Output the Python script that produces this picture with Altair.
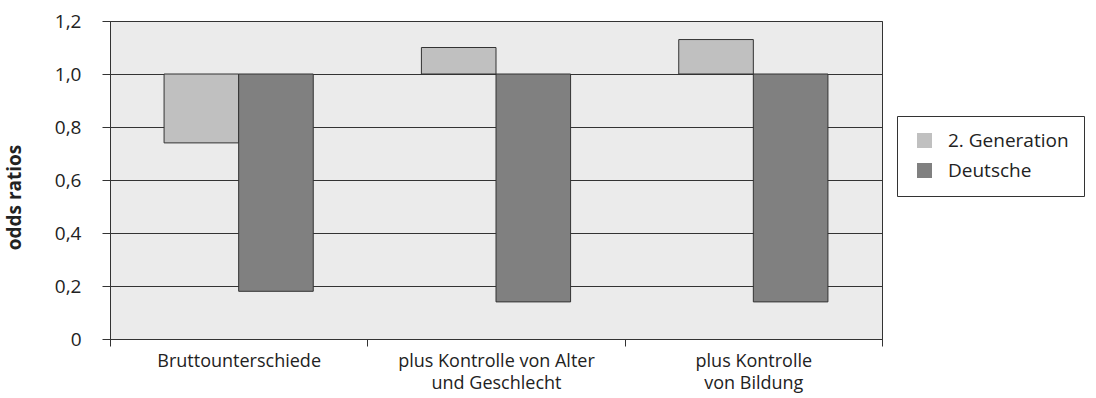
import altair as alt
import pandas as pd

categories = [
    "Bruttounterschiede",
    "plus Kontrolle von Alter\nund Geschlecht",
    "plus Kontrolle\nvon Bildung",
]
groups = ["2. Generation", "Deutsche"]
gen2_values = [0.74, 1.10, 1.13]
deutsche_values = [0.18, 0.14, 0.14]
y_ticks = [0, 0.2, 0.4, 0.6, 0.8, 1.0, 1.2]
colors = ["#c0c0c0", "#808080"]

rows = []
for c, v in zip(categories, gen2_values):
    rows.append({"cat": c, "group": groups[0], "value": v})
for c, v in zip(categories, deutsche_values):
    rows.append({"cat": c, "group": groups[1], "value": v})
df = pd.DataFrame(rows)

FONT = "Open Sans"

bars = alt.Chart(df).mark_bar(stroke="#333333", strokeWidth=1).encode(
    x=alt.X(
        "cat:N",
        sort=categories,
        title=None,
        scale=alt.Scale(paddingInner=0, paddingOuter=0),
        axis=alt.Axis(
            labelAngle=0,
            labelExpr="split(datum.label, '\\n')",
            tickBand="extent",
            tickSize=7,
            tickColor="#333333",
            domainColor="#333333",
            labelPadding=6,
            labelFontSize=18,
            labelLineHeight=22,
            labelLimit=400,
            labelColor="#222222",
            labelFont=FONT,
            grid=False,
        ),
    ),
    xOffset=alt.XOffset("group:N", sort=groups,
                        scale=alt.Scale(paddingInner=0, paddingOuter=0.725)),
    y=alt.Y(
        "value:Q",
        title="odds ratios",
        scale=alt.Scale(domain=[0, 1.2], nice=False),
        axis=alt.Axis(
            values=y_ticks,
            labelExpr="datum.value == 0 ? '0' : replace(format(datum.value, '.1f'), '.', ',')",
            tickSize=8,
            tickColor="#333333",
            domainColor="#333333",
            gridColor="#333333",
            gridOpacity=1,
            gridWidth=1,
            labelPadding=21,
            labelFontSize=19,
            labelFont=FONT,
            labelColor="#222222",
            titleFont=FONT,
            titleFontSize=19,
            titleFontWeight="bold",
            titleColor="#222222",
            titleX=-96,
            titleY=176,
            titleAlign="center",
            titleBaseline="middle",
        ),
    ),
    y2=alt.datum(1.0),
    color=alt.Color(
        "group:N",
        sort=groups,
        scale=alt.Scale(domain=groups, range=colors),
        legend=alt.Legend(
            title=None,
            orient="none",
            legendX=787,
            legendY=95,
            symbolType="square",
            symbolSize=225,
            symbolStrokeWidth=0,
            labelFont=FONT,
            labelFontSize=19,
            labelColor="#222222",
            strokeColor="#333333",
            fillColor="white",
            padding=15,
            rowPadding=10,
            labelOffset=14,
            symbolOffset=3,
            labelLimit=300,
        ),
    ),
)

chart = bars.properties(
    width=772,
    height=318,
    background="white",
    padding={"left": 110, "top": 21, "right": 214, "bottom": 59},
    autosize=alt.AutoSizeParams(type="none"),
).configure_view(
    fill="#ebebeb",
    stroke="#333333",
    strokeWidth=1,
)

chart.save("out.html", embed_options={"renderer": "svg", "actions": False})
